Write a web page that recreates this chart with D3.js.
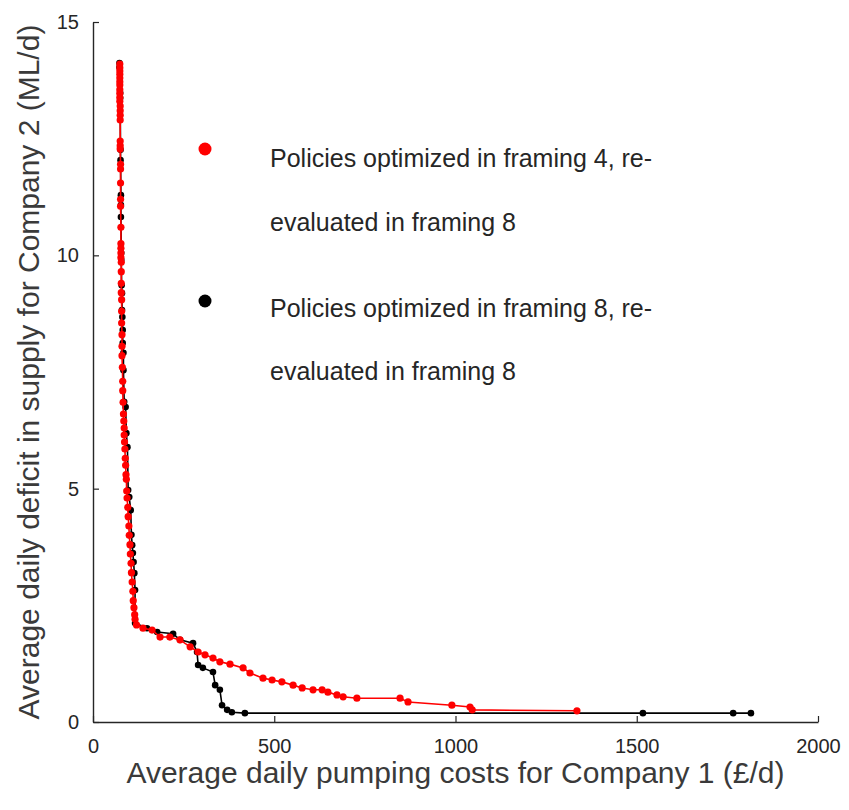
<!DOCTYPE html>
<html>
<head>
<meta charset="utf-8">
<script src="https://cdn.jsdelivr.net/npm/d3@7"></script>
<style>
  html, body { margin: 0; padding: 0; background: #fff; }
  svg { display: block; font-family: "Liberation Sans", Arial, Helvetica, sans-serif; }
</style>
</head>
<body>
<svg id="chart" width="849" height="810"></svg>
<script>
// Pareto fronts: average daily pumping cost (Company 1) vs supply deficit (Company 2)

// Policies optimized in framing 4, re-evaluated in framing 8
const f4Cost = [74, 74, 74, 74, 74, 74, 74, 74, 74, 74, 74, 75, 75, 75, 75, 75, 75, 75, 76, 76, 76, 76, 76, 77, 77, 77, 77, 77, 78, 78, 78, 78, 79, 79, 79, 80, 80, 80, 81, 82, 82, 83, 84, 85, 86, 86, 87, 88, 89, 90, 91, 92, 93, 94, 96, 97, 99, 100, 102, 103, 105, 106, 108, 110, 111, 113, 115, 116,
  120, 138, 163, 185, 212, 240, 268, 290, 309, 331, 350, 378, 414, 433, 469, 494, 521, 552, 577, 607, 632, 648, 673, 690, 728, 847, 869, 990, 1040, 1046, 1335];
const f4Deficit = [14.10, 14.02, 13.95, 13.88, 13.80, 13.72, 13.65, 13.55, 13.47, 13.38, 13.30, 13.20, 13.10, 13.00, 12.90, 12.45, 12.35, 12.28, 11.95, 11.85, 11.55, 11.20, 11.05, 10.60, 10.25, 10.15, 10.05, 9.95, 9.85, 9.65, 9.40, 9.20, 9.05, 8.80, 8.55, 8.30, 8.05, 7.85, 7.60, 7.30, 7.10, 6.85, 6.60, 6.45, 6.30, 6.15, 6.00, 5.85, 5.65, 5.50, 5.30, 5.20, 4.95, 4.80, 4.60, 4.40, 4.20, 4.00, 3.80, 3.60, 3.40, 3.20, 3.00, 2.80, 2.60, 2.45, 2.30, 2.20,
  2.08, 2.01, 1.97, 1.82, 1.82, 1.76, 1.61, 1.50, 1.44, 1.37, 1.29, 1.24, 1.16, 1.05, 0.94, 0.90, 0.86, 0.79, 0.73, 0.69, 0.69, 0.64, 0.58, 0.54, 0.51, 0.51, 0.43, 0.36, 0.32, 0.26, 0.24];

// Policies optimized in framing 8, re-evaluated in framing 8
const f8Cost = [73, 73, 75, 75, 76, 76, 77, 77, 77, 78, 78, 79, 80, 80, 81, 82, 82, 84, 84, 86, 90, 92, 95, 97, 100, 104, 106, 108, 110, 112, 114, 116,
  116, 149, 177, 221, 240, 276, 287, 290, 303, 331, 337, 350, 356, 370, 383, 419, 1517, 1766, 1815];
const f8Deficit = [14.12, 14.03, 13.48, 13.37, 12.26, 12.04, 11.29, 11.08, 10.82, 10.05, 9.90, 9.36, 9.19, 8.83, 8.68, 8.40, 8.12, 7.91, 7.54, 6.86, 6.75, 6.19, 5.89, 4.97, 4.82, 4.54, 4.01, 3.79, 3.62, 3.43, 3.19, 2.83,
  2.12, 2.01, 1.93, 1.89, 1.76, 1.69, 1.50, 1.22, 1.16, 1.07, 0.79, 0.69, 0.36, 0.26, 0.21, 0.19, 0.19, 0.19, 0.19];

const xTicks = [0, 500, 1000, 1500, 2000];
const yTicks = [0, 5, 10, 15];

const legendLines = [
  ["Policies optimized in framing 4, re-", "evaluated in framing 8"],
  ["Policies optimized in framing 8, re-", "evaluated in framing 8"]
];

const svg = d3.select("#chart");
const axisColor = "#262626";

const x = d3.scaleLinear().domain([0, 2000]).range([93, 818]);
const y = d3.scaleLinear().domain([0, 15]).range([722, 22]);

// axes (ticks point inward, no box)
const gx = svg.append("g")
  .attr("transform", `translate(0,${y(0)})`)
  .call(d3.axisBottom(x).tickValues(xTicks).tickFormat(d3.format("d"))
    .tickSizeInner(-6).tickSizeOuter(0).tickPadding(17));
const gy = svg.append("g")
  .attr("transform", `translate(${x(0)},0)`)
  .call(d3.axisLeft(y).tickValues(yTicks).tickFormat(d3.format("d"))
    .tickSizeInner(-6).tickSizeOuter(0).tickPadding(14));

[gx, gy].forEach(g => {
  g.select(".domain").attr("stroke", axisColor).attr("stroke-width", 1.4);
  g.selectAll(".tick line").attr("stroke", axisColor).attr("stroke-width", 1.2);
  g.selectAll(".tick text").attr("fill", axisColor)
    .style("font-size", "20px").style("font-family", "Liberation Sans, Arial, sans-serif");
});

// axis titles
svg.append("text")
  .attr("x", (x(0) + x(2000)) / 2).attr("y", 783)
  .attr("text-anchor", "middle").attr("fill", "#3a3a3a")
  .style("font-size", "30px")
  .text("Average daily pumping costs for Company 1 (£/d)");
svg.append("text")
  .attr("transform", `translate(39,${(y(0) + y(15)) / 2}) rotate(-90)`)
  .attr("text-anchor", "middle").attr("fill", "#3a3a3a")
  .style("font-size", "30px")
  .text("Average daily deficit in supply for Company 2 (ML/d)");

// series
function drawSeries(costs, deficits, color, r) {
  const pts = costs.map((c, i) => [c, deficits[i]]);
  const line = d3.line().x(d => x(d[0])).y(d => y(d[1]));
  svg.append("path").datum(pts)
    .attr("d", line).attr("fill", "none")
    .attr("stroke", color).attr("stroke-width", 1.6);
  svg.append("g").selectAll("circle").data(pts).join("circle")
    .attr("cx", d => x(d[0])).attr("cy", d => y(d[1]))
    .attr("r", r).attr("fill", color);
}
drawSeries(f8Cost, f8Deficit, "#000000", 3.3);
drawSeries(f4Cost, f4Deficit, "#ff0000", 3.6);

// legend
const legend = [
  { color: "#ff0000", dotY: 149, lines: legendLines[0], baselines: [167, 231] },
  { color: "#000000", dotY: 301, lines: legendLines[1], baselines: [317, 380] }
];
legend.forEach(item => {
  svg.append("circle").attr("cx", 205).attr("cy", item.dotY)
    .attr("r", 6.5).attr("fill", item.color);
  item.lines.forEach((t, i) => {
    svg.append("text").attr("x", 270).attr("y", item.baselines[i])
      .attr("fill", "#262626").style("font-size", "25px").text(t);
  });
});
</script>
</body>
</html>
